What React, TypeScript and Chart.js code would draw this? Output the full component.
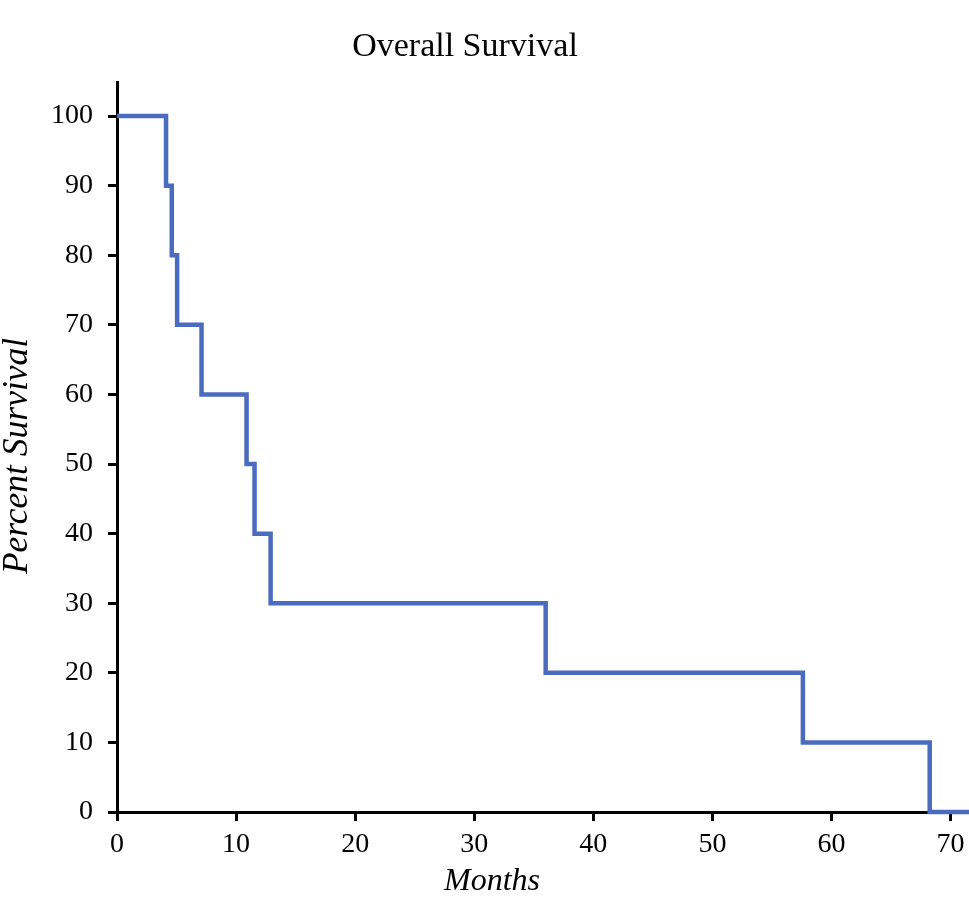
import React, { useEffect, useRef } from "react";
import { Chart, registerables } from "chart.js";

Chart.register(...registerables);

const chartTitle = "Overall Survival";
const xAxisTitle = "Months";
const yAxisTitle = "Percent Survival";
const months = [0, 4.12, 4.6, 5.05, 7.1, 10.88, 11.55, 12.9, 36.0, 57.6, 68.25, 71.6];
const survival = [100, 90, 80, 70, 60, 50, 40, 30, 20, 10, 0, 0];
const xMin = 0;
const xMax = 71.55;
const xStep = 10;
const yMin = 0;
const yMax = 104.9;
const yStep = 10;

const FONT = "'Liberation Serif', 'Times New Roman', serif";

export default function App() {
  const ref = useRef<HTMLCanvasElement | null>(null);

  useEffect(() => {
    if (!ref.current) return;
    const titleShift = {
      id: "titleShift",
      afterLayout(chart: any) {
        const tb = chart.titleBlock;
        if (tb) {
          tb.right = tb.left + 930;
          tb.width = 930;
        }
      },
    };
    const axisTitles = {
      id: "axisTitles",
      afterDraw(chart: any) {
        const { ctx, chartArea } = chart;
        ctx.save();
        ctx.fillStyle = "#000";
        ctx.textAlign = "center";
        ctx.textBaseline = "middle";
        ctx.font = `italic 32px ${FONT}`;
        ctx.fillText(xAxisTitle, chartArea.left + 375, chartArea.bottom + 70);
        ctx.translate(18, (chartArea.top + chartArea.bottom) / 2 + 9);
        ctx.rotate(-Math.PI / 2);
        ctx.font = `italic 35.5px ${FONT}`;
        ctx.fillText(yAxisTitle, 0, 0);
        ctx.restore();
      },
    };
    const chart = new Chart(ref.current, {
      type: "line",
      data: {
        datasets: [
          {
            data: months.map((m, i) => ({ x: m, y: survival[i] })),
            borderColor: "#4a6bbe",
            borderWidth: 4.5,
            pointRadius: 0,
            stepped: "before",
            fill: false,
            clip: false as any,
            borderCapStyle: "butt",
            borderJoinStyle: "miter",
          },
        ],
      },
      options: {
        animation: false,
        responsive: false,
        devicePixelRatio: 1,
        layout: { padding: 0 },
        plugins: {
          legend: { display: false },
          tooltip: { enabled: false },
          title: {
            display: true,
            text: chartTitle,
            color: "#000",
            font: { family: FONT, size: 34, weight: "normal" },
            padding: { top: 26.6, bottom: 14.6 },
          },
        },
        scales: {
          x: {
            type: "linear",
            min: xMin,
            max: xMax,
            afterFit: (s: any) => {
              s.height = 104;
              s.paddingRight = 0;
              s.paddingLeft = 0;
            },
            ticks: {
              stepSize: xStep,
              includeBounds: false,
              color: "#000",
              padding: 7,
              maxRotation: 0,
              font: { family: FONT, size: 28 },
            },
            grid: {
              drawOnChartArea: false,
              drawTicks: true,
              tickLength: 9,
              tickWidth: 3,
              tickColor: "#000",
            },
            border: { display: true, color: "#000", width: 3 },
            title: { display: false },
          },
          y: {
            type: "linear",
            min: yMin,
            max: yMax,
            afterFit: (s: any) => {
              s.width = 117;
            },
            ticks: {
              stepSize: yStep,
              includeBounds: false,
              color: "#000",
              padding: 15,
              font: { family: FONT, size: 28 },
            },
            grid: {
              drawOnChartArea: false,
              drawTicks: true,
              tickLength: 9,
              tickWidth: 3,
              tickColor: "#000",
            },
            border: { display: true, color: "#000", width: 3 },
            title: { display: false },
          },
        },
      },
      plugins: [titleShift, axisTitles],
    } as any);
    return () => chart.destroy();
  }, []);

  return (
    <div style={{ position: "absolute", left: 0, top: 0, width: 969, height: 916 }}>
      <canvas ref={ref} width={969} height={916} style={{ width: 969, height: 916, display: "block" }} />
    </div>
  );
}
